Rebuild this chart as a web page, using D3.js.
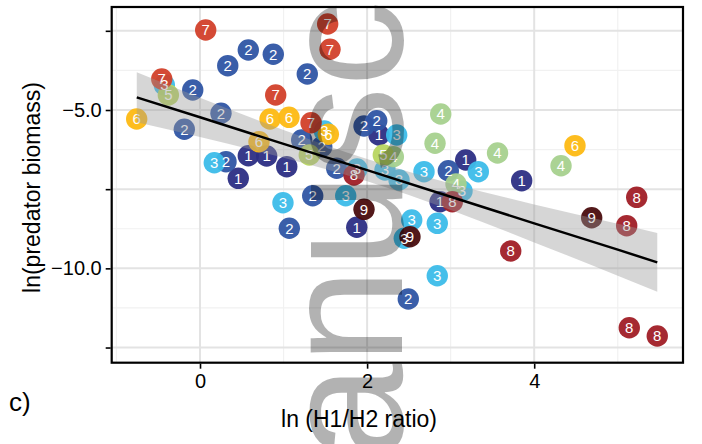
<!DOCTYPE html>
<html><head><meta charset="utf-8">
<script src="https://cdn.jsdelivr.net/npm/d3@7"></script>
<style>body{margin:0;background:#fff}svg{display:block}</style>
</head><body>
<svg id="chart" width="702" height="444"></svg>
<script>
// ---- axes / ticks ----
const xDomain = [-1.057, 5.781];
const yDomain = [-12.979, -1.748];
const xTicks = [0, 2, 4];
const xTickLabels = ["0", "2", "4"];
const xMinor = [-1, 1, 3, 5];
const yTicks = [-2.5, -5, -7.5, -10, -12.5];
const yTickLabels = ["", "\u22125.0", "", "\u221210.0", ""];
const yMinor = [-3.75, -6.25, -8.75, -11.25];

// ---- groups ----
const groupNames = ["1", "2", "3", "4", "5", "6", "7", "8", "9"];
const groupColors = ["#2c2e84", "#2f55a4", "#3cbce9", "#a6d18e", "#b8d660", "#fdb913", "#d2402a", "#a01d26", "#4a0d0e"];

const g1 = [[0.578,-6.443],[0.798,-6.452],[1.038,-6.790],[0.458,-7.157],[2.142,-5.789],[1.876,-8.704],[3.180,-6.579],[3.850,-7.232],[2.873,-7.896]];
const g2 = [[0.578,-3.105],[0.877,-3.241],[0.332,-3.601],[-0.087,-4.368],[1.284,-3.863],[0.251,-5.104],[-0.188,-5.609],[0.311,-6.632],[1.217,-5.947],[1.457,-6.159],[1.636,-6.841],[1.963,-5.505],[2.115,-5.338],[2.972,-6.917],[1.349,-7.706],[1.069,-8.735],[2.493,-10.968]];
const g3 = [[-0.427,-4.211],[0.171,-6.664],[1.488,-5.663],[1.879,-6.863],[2.354,-5.789],[2.214,-6.895],[2.382,-7.210],[2.681,-6.948],[3.331,-6.948],[3.136,-7.558],[0.993,-7.927],[1.744,-7.706],[2.534,-8.473],[2.840,-8.578],[2.445,-9.051],[2.840,-10.232]];
const g4 = [[2.881,-5.126],[2.813,-6.051],[3.561,-6.358],[4.321,-6.759],[3.064,-7.337],[2.314,-6.475]];
const g5 = [[-0.379,-4.526],[1.308,-6.421],[2.194,-6.421]];
const g6 = [[-0.758,-5.284],[0.838,-5.284],[1.065,-5.231],[0.706,-6.001],[1.536,-5.767],[4.488,-6.127]];
const g7 = [[0.068,-2.474],[-0.458,-4.021],[0.906,-4.526],[1.528,-2.284],[1.556,-3.083],[1.329,-5.401]];
const g8 = [[1.843,-7.052],[3.020,-7.896],[5.227,-7.757],[5.107,-8.653],[3.719,-9.452],[5.138,-11.874],[5.473,-12.136]];
const g9 = [[1.963,-8.136],[2.513,-9.001],[4.688,-8.401]];
const groupPoints = [g1, g2, g3, g4, g5, g6, g7, g8, g9];

// ---- fitted line and confidence band ----
const fitX     = [-0.757, 0, 1, 2, 3, 4, 5, 5.473];
const fitY     = [-4.60, -5.23, -6.07, -6.90, -7.74, -8.58, -9.41, -9.81];
const fitUpper = [-3.81, -4.61, -5.63, -6.55, -7.32, -7.98, -8.59, -8.88];
const fitLower = [-5.39, -5.85, -6.51, -7.25, -8.16, -9.18, -10.23, -10.74];

const FONT = "'Liberation Sans', Arial, sans-serif";
const svg = d3.select("#chart");
const P = {left: 111.7, right: 683, top: 7, bottom: 362.7};

const x = d3.scaleLinear().domain(xDomain).range([P.left, P.right]);
const y = d3.scaleLinear().domain(yDomain).range([P.bottom, P.top]);

const grid = svg.append("g");
grid.selectAll(".xm").data(xMinor).join("line")
  .attr("x1", d => x(d)).attr("x2", d => x(d)).attr("y1", P.top).attr("y2", P.bottom)
  .attr("stroke", "#f1f1f1").attr("stroke-width", 1.2);
grid.selectAll(".ym").data(yMinor).join("line").attr("class","ym")
  .attr("y1", d => y(d)).attr("y2", d => y(d)).attr("x1", P.left).attr("x2", P.right)
  .attr("stroke", "#f1f1f1").attr("stroke-width", 1.2);
grid.selectAll(".xM").data(xTicks).join("line").attr("class","xM")
  .attr("x1", d => x(d)).attr("x2", d => x(d)).attr("y1", P.top).attr("y2", P.bottom)
  .attr("stroke", "#e3e3e3").attr("stroke-width", 2);
grid.selectAll(".yM").data(yTicks).join("line").attr("class","yM")
  .attr("y1", d => y(d)).attr("y2", d => y(d)).attr("x1", P.left).attr("x2", P.right)
  .attr("stroke", "#e3e3e3").attr("stroke-width", 2);

// points
const pts = [];
groupPoints.forEach((arr, gi) => arr.forEach(p => pts.push({x: p[0], y: p[1], g: gi})));
svg.append("g").selectAll("circle").data(pts).join("circle")
  .attr("cx", d => x(d.x)).attr("cy", d => y(d.y)).attr("r", 10.7)
  .attr("fill", d => groupColors[d.g]).attr("fill-opacity", 0.95);
svg.append("g").selectAll("text").data(pts).join("text")
  .attr("x", d => x(d.x)).attr("y", d => y(d.y)).attr("dy", "0.36em")
  .attr("text-anchor", "middle").attr("fill", "#fff")
  .style("font-family", FONT).style("font-size", "15px")
  .text(d => groupNames[d.g]);

// band + line
const fit = fitX.map((v, i) => ({x: v, y: fitY[i], lo: fitLower[i], hi: fitUpper[i]}));
svg.append("path").datum(fit)
  .attr("d", d3.area().x(d => x(d.x)).y0(d => y(d.lo)).y1(d => y(d.hi)).curve(d3.curveMonotoneX))
  .attr("fill", "#999999").attr("fill-opacity", 0.4);
svg.append("path").datum(fit)
  .attr("d", d3.line().x(d => x(d.x)).y(d => y(d.y)))
  .attr("fill", "none").attr("stroke", "#000").attr("stroke-width", 2.5);

// panel border
svg.append("rect").attr("x", P.left).attr("y", P.top)
  .attr("width", P.right - P.left).attr("height", P.bottom - P.top)
  .attr("fill", "none").attr("stroke", "#000").attr("stroke-width", 2.2);

// axes
const ax = svg.append("g").attr("transform", `translate(0,${P.bottom + 1})`)
  .call(d3.axisBottom(x).tickValues(xTicks).tickFormat((d, i) => xTickLabels[i]).tickSize(5).tickPadding(5));
const ay = svg.append("g").attr("transform", `translate(${P.left - 1},0)`)
  .call(d3.axisLeft(y).tickValues(yTicks).tickFormat((d, i) => yTickLabels[i]).tickSize(5).tickPadding(4));
[ax, ay].forEach(a => {
  a.select(".domain").remove();
  a.selectAll("line").attr("stroke", "#000").attr("stroke-width", 1.6);
  a.selectAll("text").attr("fill", "#000").style("font-family", FONT).style("font-size", "20px");
});

// titles
svg.append("text").attr("x", 359).attr("y", 427).attr("text-anchor", "middle")
  .style("font-family", FONT).style("font-size", "23px").text("ln (H1/H2 ratio)");
svg.append("text").attr("transform", "translate(39.5,187.5) rotate(-90)").attr("text-anchor", "middle")
  .style("font-family", FONT).style("font-size", "23px").text("ln(predator biomass)");
svg.append("text").attr("x", 9).attr("y", 411)
  .style("font-family", FONT).style("font-size", "26px").text("c)");

// watermark
svg.append("text").attr("transform", "translate(402,603) rotate(-90)")
  .style("font-family", FONT).style("font-size", "172px")
  .attr("fill", "#000").attr("fill-opacity", 0.3).text("Manuscript");
</script>
</body></html>
